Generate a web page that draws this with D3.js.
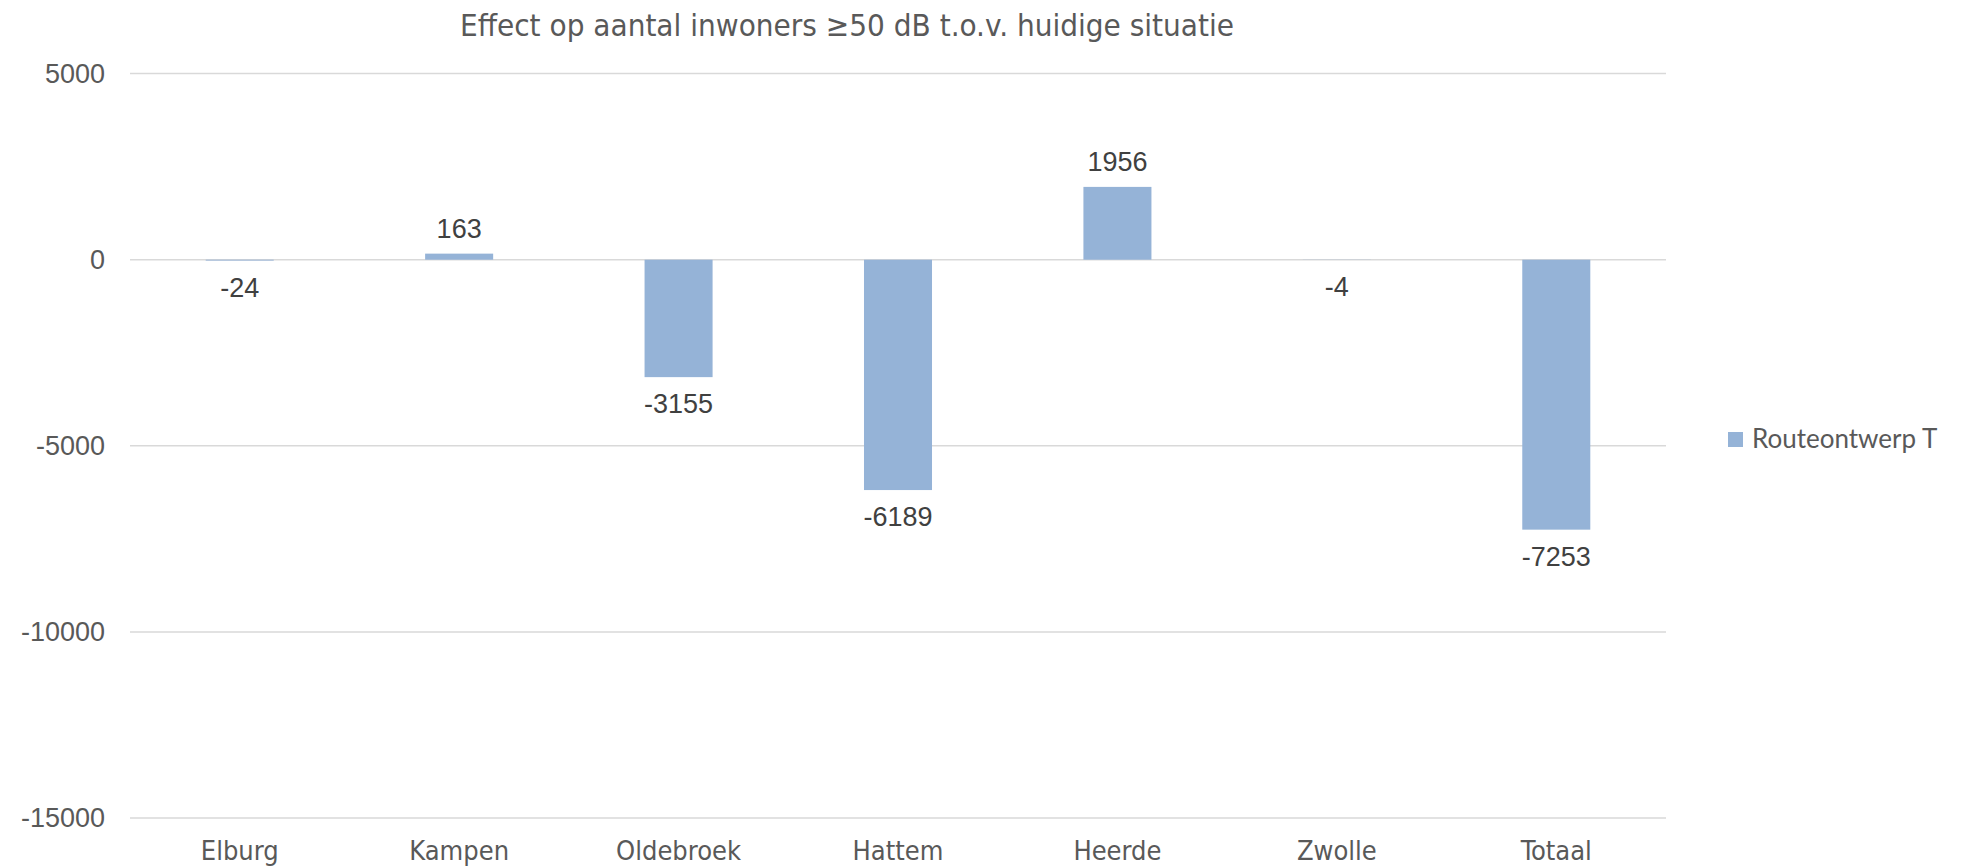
<!DOCTYPE html>
<html><head><meta charset="utf-8">
<script src="https://cdn.jsdelivr.net/npm/d3@7"></script>
<style>
html,body{margin:0;padding:0;background:#fff;}
svg{display:block;}
</style></head>
<body>
<svg id="chart" width="1962" height="868"></svg>
<script>
const categories = ["Elburg","Kampen","Oldebroek","Hattem","Heerde","Zwolle","Totaal"];
const values = [-24, 163, -3155, -6189, 1956, -4, -7253];
const yTicks = [5000, 0, -5000, -10000, -15000];
const seriesName = "Routeontwerp T";
const titleText = "Effect op aantal inwoners \u226550 dB t.o.v. huidige situatie";

const svg = d3.select("#chart");
const plotLeft = 130, plotRight = 1666, plotTop = 73.6, plotBottom = 818;
const narrow = "'Liberation Sans Narrow','DejaVu Sans Condensed',sans-serif";

const x = d3.scaleBand().domain(categories).range([plotLeft, plotRight]).paddingInner(0.69).paddingOuter(0.345);
const y = d3.scaleLinear().domain([-15000, 5000]).range([plotBottom, plotTop]);

// gridlines
svg.append("g").selectAll("line").data(yTicks).join("line")
  .attr("x1", plotLeft).attr("x2", plotRight)
  .attr("y1", d => y(d)).attr("y2", d => y(d))
  .attr("stroke", "#d9d9d9").attr("stroke-width", 1.5);

// y axis labels
const yAxis = d3.axisLeft(y).tickValues(yTicks).tickSize(0).tickPadding(0).tickFormat(d => String(d));
const ya = svg.append("g").attr("transform", `translate(105,0)`).call(yAxis);
ya.select(".domain").remove();
ya.selectAll("text").attr("font-family", "'Liberation Sans',Arial,sans-serif")
  .attr("font-size", 27).attr("fill", "#595959");

// bars
svg.append("g").selectAll("rect").data(values).join("rect")
  .attr("x", (d, i) => x(categories[i]))
  .attr("width", x.bandwidth())
  .attr("y", d => y(Math.max(0, d)))
  .attr("height", d => Math.abs(y(d) - y(0)))
  .attr("fill", "#95b3d7");

// data labels
svg.append("g").selectAll("text").data(values).join("text")
  .attr("x", (d, i) => x(categories[i]) + x.bandwidth() / 2)
  .attr("y", d => d >= 0 ? y(d) - 16 : y(d) + 36)
  .attr("text-anchor", "middle")
  .attr("font-family", "'Liberation Sans',Arial,sans-serif")
  .attr("font-size", 27).attr("fill", "#404040")
  .text(d => d);

// x axis labels
const xAxis = d3.axisBottom(x).tickSize(0).tickPadding(0);
const xa = svg.append("g").attr("transform", `translate(0,${plotBottom + 42})`).call(xAxis);
xa.select(".domain").remove();
xa.selectAll("text").attr("font-family", narrow).attr("font-size", 27).attr("fill", "#595959").attr("dy", 0);

// title
svg.append("text").attr("x", 847).attr("y", 36).attr("text-anchor", "middle")
  .attr("font-family", narrow).attr("font-size", 31).attr("fill", "#595959")
  .attr("textLength", 774).attr("lengthAdjust", "spacingAndGlyphs")
  .text(titleText);

// legend
const lg = svg.append("g").attr("transform", "translate(1728,432)");
lg.append("rect").attr("width", 15).attr("height", 15).attr("fill", "#95b3d7");
lg.append("text").attr("x", 24).attr("y", 16).attr("font-family", "Lato,'Open Sans',sans-serif")
  .attr("font-size", 26).attr("fill", "#595959").text(seriesName);
</script>
</body></html>
